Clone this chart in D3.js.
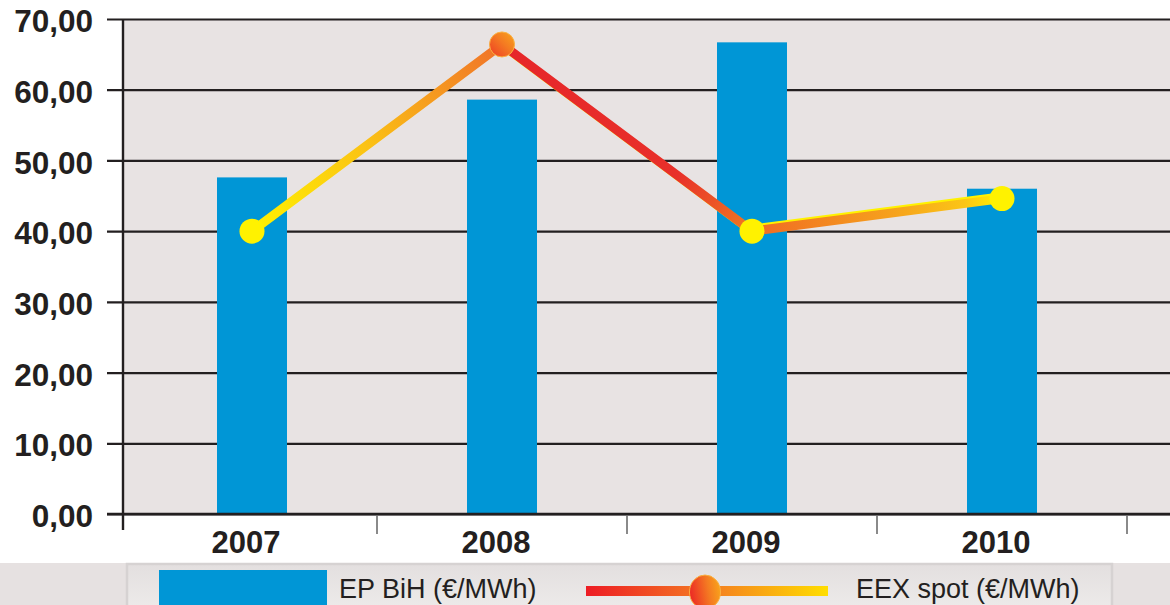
<!DOCTYPE html>
<html>
<head>
<meta charset="utf-8">
<script src="https://cdn.jsdelivr.net/npm/d3@7"></script>
<style>
  html, body { margin: 0; padding: 0; background: #ffffff; }
  svg { display: block; }
</style>
</head>
<body>
<svg id="chart" width="1170" height="605"></svg>
<script>
// ---- data ----
const years = ["2007", "2008", "2009", "2010"];
const epBih = [47.6, 58.6, 66.7, 46.0];      // EP BiH (€/MWh) bars
const eexSpot = [40.0, 66.4, 40.0, 44.6];    // EEX spot (€/MWh) line
const yTicks = [0, 10, 20, 30, 40, 50, 60, 70];
const legendLabels = ["EP BiH (€/MWh)", "EEX spot (€/MWh)"];

// ---- layout ----
const W = 1170, H = 605;
const plotLeft = 123, plotRight = 1170, plotTop = 19, plotBottom = 514;
const ink = "#231f20";
const blue = "#0096d6";

const svg = d3.select("#chart");
const defs = svg.append("defs");

const x = d3.scaleBand().domain(years).range([127, 1127])
  .paddingInner(0.72).paddingOuter(0.36);
const y = d3.scaleLinear().domain([0, 70]).range([plotBottom, plotTop]);

// plot background
svg.append("rect").attr("x", plotLeft).attr("y", plotTop)
  .attr("width", plotRight - plotLeft).attr("height", plotBottom - plotTop)
  .attr("fill", "#e8e3e3");

// y axis with gridlines
const yAxis = d3.axisLeft(y).tickValues(yTicks)
  .tickSize(-(plotRight - 107)).tickPadding(14)
  .tickFormat(d => d3.format(".2f")(d).replace(".", ","));
const gy = svg.append("g").attr("transform", `translate(107,0)`).call(yAxis);
gy.select(".domain").remove();
gy.selectAll(".tick line").attr("stroke", ink).attr("stroke-width", 2.2);
gy.selectAll(".tick text")
  .attr("fill", ink)
  .attr("font-family", "'Liberation Sans', Arial, sans-serif")
  .attr("font-weight", "bold")
  .attr("font-size", 31.5)
  .attr("dy", "0.40em");

// bars
svg.append("g").selectAll("rect").data(years).join("rect")
  .attr("x", d => x(d))
  .attr("y", (d, i) => y(epBih[i]))
  .attr("width", x.bandwidth())
  .attr("height", (d, i) => y(0) - y(epBih[i]))
  .attr("fill", blue);

// x axis: grey ticks at band boundaries
const step = x.step();
const boundaries = years.map(d => x(d) + x.bandwidth() + (step - x.bandwidth()) / 2);
svg.append("g").selectAll("line").data(boundaries).join("line")
  .attr("x1", d => d).attr("x2", d => d)
  .attr("y1", plotBottom).attr("y2", plotBottom + 20)
  .attr("stroke", "#8a8a8a").attr("stroke-width", 2);

// baseline redraw + vertical axis line
svg.append("line").attr("x1", 107).attr("x2", plotRight)
  .attr("y1", y(0)).attr("y2", y(0)).attr("stroke", ink).attr("stroke-width", 2.4);
svg.append("line").attr("x1", plotLeft).attr("x2", plotLeft)
  .attr("y1", plotTop).attr("y2", 530).attr("stroke", ink).attr("stroke-width", 2.4);

// x labels
svg.append("g").selectAll("text").data(years).join("text")
  .attr("x", d => x(d) + x.bandwidth() / 2 - 6)
  .attr("y", 553)
  .attr("text-anchor", "middle")
  .attr("fill", ink)
  .attr("font-family", "'Liberation Sans', Arial, sans-serif")
  .attr("font-weight", "bold")
  .attr("font-size", 31)
  .text(d => d);

// ---- line with gradient segments ----
const pts = years.map((d, i) => [x(d) + x.bandwidth() / 2, y(eexSpot[i])]);
const segStops = [
  [[0, "#fff200"], [0.45, "#fbc314"], [1, "#f0712a"]],
  [[0, "#e6262a"], [0.7, "#e8302a"], [1, "#f07a22"]],
  [[0, "#f06a24"], [0.55, "#f6a01d"], [0.85, "#fbc516"], [1, "#fff200"]]
];
const edgeOffset = [[0, 0], [1.8, 1.8], [0, -2.2]];
const segG = svg.append("g");
for (let i = 0; i < pts.length - 1; i++) {
  const [x1, y1] = pts[i], [x2, y2] = pts[i + 1];
  const gid = "seg" + i;
  const g = defs.append("linearGradient").attr("id", gid)
    .attr("gradientUnits", "userSpaceOnUse")
    .attr("x1", x1).attr("y1", y1).attr("x2", x2).attr("y2", y2);
  segStops[i].forEach(s => g.append("stop").attr("offset", s[0]).attr("stop-color", s[1]));
  const [ox, oy] = edgeOffset[i];
  if (ox !== 0 || oy !== 0) {
    segG.append("line")
      .attr("x1", x1 + ox).attr("y1", y1 + oy).attr("x2", x2 + ox).attr("y2", y2 + oy)
      .attr("stroke", "#fff200").attr("stroke-width", 8.5).attr("stroke-linecap", "round");
  }
  segG.append("line")
    .attr("x1", x1).attr("y1", y1).attr("x2", x2).attr("y2", y2)
    .attr("stroke", `url(#${gid})`).attr("stroke-width", 9).attr("stroke-linecap", "round");
}

// markers
const mg = defs.append("linearGradient").attr("id", "peak")
  .attr("x1", "0").attr("y1", "1").attr("x2", "1").attr("y2", "0");
mg.append("stop").attr("offset", 0).attr("stop-color", "#ee3a24");
mg.append("stop").attr("offset", 0.55).attr("stop-color", "#f47a22");
mg.append("stop").attr("offset", 1).attr("stop-color", "#f9a51b");
const maxV = d3.max(eexSpot);
svg.append("g").selectAll("circle").data(eexSpot).join("circle")
  .attr("cx", (d, i) => pts[i][0])
  .attr("cy", (d, i) => pts[i][1])
  .attr("r", 12.5)
  .attr("fill", d => d === maxV ? "url(#peak)" : "#fff200")
  .attr("stroke", d => d === maxV ? "#fbb040" : "none")
  .attr("stroke-width", 1);

// ---- legend ----
svg.append("rect").attr("x", 0).attr("y", 563).attr("width", W).attr("height", 50)
  .attr("fill", "#e6e1e1");
const lg = defs.append("linearGradient").attr("id", "legbox")
  .attr("x1", 0).attr("y1", 0).attr("x2", 0).attr("y2", 1);
lg.append("stop").attr("offset", 0).attr("stop-color", "#e3dfdf");
lg.append("stop").attr("offset", 1).attr("stop-color", "#eeeceb");
svg.append("rect").attr("x", 127).attr("y", 564).attr("width", 985).attr("height", 50)
  .attr("fill", "url(#legbox)").attr("stroke", "#d6d2d2").attr("stroke-width", 2.5);

svg.append("rect").attr("x", 159).attr("y", 570).attr("width", 168).attr("height", 40)
  .attr("fill", blue);

const ll = defs.append("linearGradient").attr("id", "legline")
  .attr("gradientUnits", "userSpaceOnUse")
  .attr("x1", 586).attr("y1", 0).attr("x2", 828).attr("y2", 0);
ll.append("stop").attr("offset", 0).attr("stop-color", "#ed1c24");
ll.append("stop").attr("offset", 0.5).attr("stop-color", "#f47a22");
ll.append("stop").attr("offset", 1).attr("stop-color", "#ffde00");
svg.append("rect").attr("x", 586).attr("y", 586).attr("width", 242).attr("height", 10)
  .attr("fill", "url(#legline)");
const lm = defs.append("linearGradient").attr("id", "legmark")
  .attr("x1", 0).attr("y1", 0.5).attr("x2", 1).attr("y2", 0.3);
lm.append("stop").attr("offset", 0).attr("stop-color", "#ec2a25");
lm.append("stop").attr("offset", 0.6).attr("stop-color", "#f47a22");
lm.append("stop").attr("offset", 1).attr("stop-color", "#f9a51b");
svg.append("ellipse").attr("cx", 705).attr("cy", 592).attr("rx", 15.5).attr("ry", 17)
  .attr("fill", "url(#legmark)").attr("stroke", "#fbb040").attr("stroke-width", 1);

svg.append("g").selectAll("text").data(legendLabels).join("text")
  .attr("x", (d, i) => i === 0 ? 339 : 856)
  .attr("y", 598)
  .attr("fill", ink)
  .attr("font-family", "'Liberation Sans', Arial, sans-serif")
  .attr("font-size", 27)
  .text(d => d);
</script>
</body>
</html>
